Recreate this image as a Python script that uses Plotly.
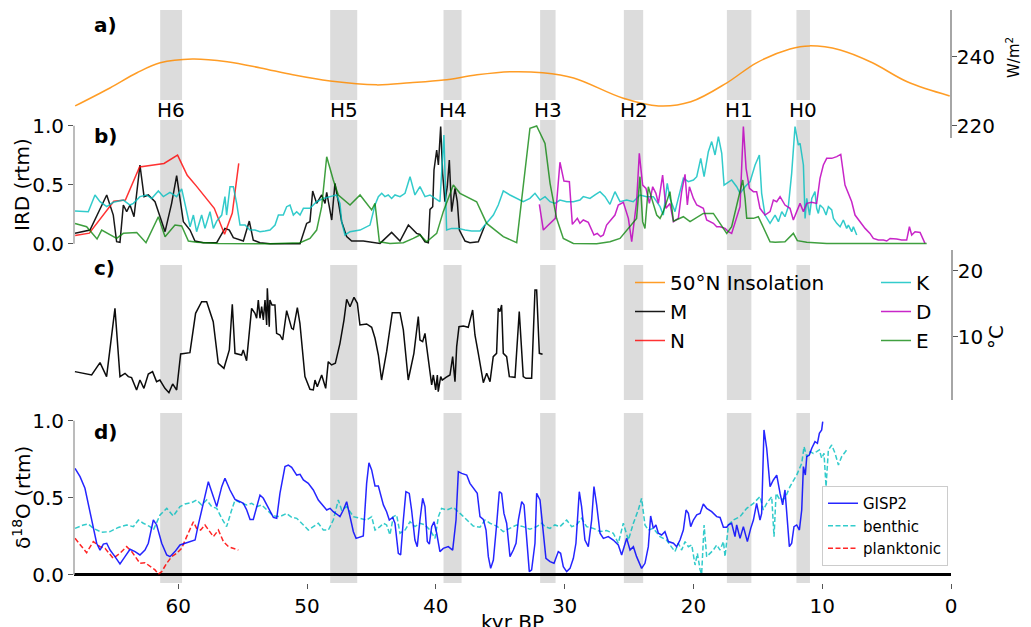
import plotly.graph_objects as go

W, H = 1031, 627
FONT = "DejaVu Sans"


def px(x):
    return x / W


def py(y):
    return 1 - y / H


# ---------------- data ----------------
X_RANGE = [68.09, 0.0]
x_ticks = [0, 10, 20, 30, 40, 50, 60]

heinrich_labels = ["H6", "H5", "H4", "H3", "H2", "H1", "H0"]
heinrich_start = [61.4, 48.2, 39.4, 31.9, 25.4, 17.4, 12.0]
heinrich_end = [59.7, 46.1, 38.0, 30.7, 23.9, 15.5, 10.95]

# a) 50N insolation (W/m2)
ins_t = [68.0, 65.3, 63.2, 61.4, 58.9, 56.2, 53.6, 51.1, 48.2, 44.6, 42.0, 39.4, 36.8, 34.2, 31.7,
         29.3, 25.5, 22.7, 20.2, 17.4, 15.1, 12.5, 11.0, 8.6, 6.1, 3.4, 0.1]
ins_v = [225.8, 231.0, 235.4, 238.3, 239.4, 238.6, 236.8, 234.8, 233.0, 231.9, 232.5, 233.3, 234.8, 235.7, 235.4,
         233.9, 228.1, 225.8, 227.0, 232.5, 238.3, 242.3, 243.2, 242.0, 238.3, 232.8, 228.7]

# b) IRD records (rtm)
M_t = [68.01, 66.85, 65.55, 65.04, 64.78, 64.52, 64.26, 64.0, 63.74, 63.43, 62.97, 62.65, 62.32, 61.8, 61.02,
       60.51, 60.12, 59.6, 59.08, 58.7, 58.05, 57.01, 56.37, 56.03, 55.72, 54.94, 54.48, 54.17, 53.65, 52.87,
       50.54, 50.03, 49.77, 49.56, 49.25, 48.86, 48.6, 48.47, 48.08, 47.83, 47.57, 47.31, 46.92, 46.53, 45.63,
       44.46, 44.33, 43.43, 42.78, 42.13, 41.49, 41.23, 40.84, 40.58, 40.45, 40.24, 40.14, 39.93, 39.8, 39.62,
       39.47, 39.29, 39.11, 38.95, 38.77, 38.51, 38.33, 38.17, 37.73, 37.35, 36.7, 36.18]
M_v = [0.088, 0.116, 0.413, 0.243, 0.017, 0.012, 0.328, 0.272, 0.328, 0.229, 0.667, 0.399, 0.413, 0.356, 0.102,
       0.342, 0.577, 0.187, 0.116, 0.023, 0.009, 0.009, 0.13, 0.116, 0.051, 0.023, 0.192, 0.031, 0.009, 0.0,
       0.0, 0.172, 0.187, 0.447, 0.342, 0.413, 0.342, 0.435, 0.201, 0.512, 0.356, 0.187, 0.06, 0.023, 0.023,
       0.003, 0.003, 0.096, 0.023, 0.158, 0.088, 0.079, 0.017, 0.009, 0.291, 0.314, 0.625, 0.794, 0.667, 0.992,
       0.596, 0.356, 0.483, 0.709, 0.272, 0.469, 0.356, 0.116, 0.023, 0.009, 0.017, 0.158]

N_t = [68.0, 66.9, 65.0, 64.1, 63.0, 61.1, 60.05, 59.3, 58.6, 57.8, 57.2, 56.4, 55.8, 55.3]
N_v = [0.07, 0.09, 0.36, 0.37, 0.65, 0.68, 0.75, 0.58, 0.49, 0.38, 0.30, 0.08, 0.26, 0.68]

K_t = [68.01, 66.98, 66.46, 66.07, 65.55, 65.04, 64.26, 63.74, 63.48, 62.97, 62.45, 62.06, 61.54, 61.15, 60.64,
       60.12, 59.73, 59.47, 59.08, 58.82, 58.57, 58.18, 57.92, 57.53, 57.27, 57.01, 56.62, 56.37, 56.24, 55.98,
       55.72, 55.46, 55.2, 54.81, 54.43, 54.04, 53.65, 53.26, 52.87, 52.48, 52.22, 51.84, 51.58, 51.32, 51.06,
       50.8, 50.54, 50.28, 49.77, 49.25, 48.73, 48.21, 47.7, 47.44, 47.31, 47.05, 46.66, 45.88, 45.11, 44.72,
       44.46, 44.2, 43.95, 43.69, 43.43, 43.17, 42.78, 42.39, 42.0, 41.62, 41.23, 40.84, 40.45, 40.06, 39.68,
       39.37, 39.16, 38.77, 38.25, 37.73, 37.22, 36.57, 36.18, 35.53, 35.15, 34.76, 34.24, 33.72, 33.21, 32.69,
       32.3, 31.91, 31.52, 31.13, 30.75, 30.36, 29.84, 29.32, 28.81, 28.55, 28.03, 27.64, 27.25, 26.86, 26.48,
       26.09, 25.7, 25.18, 24.67, 24.15, 23.63, 23.11, 22.59, 22.34, 22.03, 21.82, 21.43, 21.04, 20.78, 20.39,
       20.0, 19.74, 19.43, 19.17, 18.84, 18.58, 18.32, 18.06, 17.8, 17.62, 17.28, 17.03, 16.64, 16.38, 15.99,
       15.6, 15.21, 14.88, 14.7, 14.44, 14.05, 13.66, 13.4, 13.14, 12.89, 12.63, 12.37, 12.11, 11.85, 11.72,
       11.46, 11.33, 11.2, 10.98, 10.81, 10.56, 10.43, 10.3, 10.17, 9.91, 9.7, 9.52, 9.26, 9.13, 8.87,
       8.61, 8.36, 8.1, 7.97, 7.71, 7.58, 7.32]
K_v = [0.277, 0.271, 0.413, 0.356, 0.314, 0.351, 0.37, 0.328, 0.342, 0.399, 0.413, 0.384, 0.447, 0.399, 0.435,
       0.399, 0.464, 0.328, 0.144, 0.243, 0.102, 0.243, 0.13, 0.271, 0.13, 0.192, 0.243, 0.399, 0.243, 0.483,
       0.483, 0.342, 0.158, 0.158, 0.116, 0.116, 0.102, 0.108, 0.116, 0.158, 0.243, 0.243, 0.314, 0.328, 0.243,
       0.271, 0.243, 0.3, 0.3, 0.356, 0.384, 0.399, 0.413, 0.342, 0.187, 0.074, 0.102, 0.116, 0.158, 0.328,
       0.399, 0.427, 0.399, 0.413, 0.384, 0.413, 0.399, 0.427, 0.568, 0.413, 0.483, 0.399, 0.413, 0.384, 0.356,
       0.921, 0.116, 0.13, 0.13, 0.116, 0.108, 0.108, 0.158, 0.243, 0.328, 0.447, 0.413, 0.384, 0.356, 0.384,
       0.427, 0.37, 0.399, 0.356, 0.342, 0.37, 0.356, 0.356, 0.37, 0.399, 0.384, 0.413, 0.441, 0.399, 0.334,
       0.441, 0.356, 0.37, 0.356, 0.413, 0.399, 0.399, 0.314, 0.243, 0.512, 0.384, 0.272, 0.441, 0.554, 0.526,
       0.54, 0.568, 0.723, 0.568, 0.78, 0.865, 0.752, 0.907, 0.766, 0.497, 0.526, 0.54, 0.483, 0.427, 0.483,
       0.526, 0.667, 0.752, 0.427, 0.243, 0.173, 0.243, 0.187, 0.272, 0.229, 0.314, 0.596, 0.992, 0.836, 0.851,
       0.667, 0.215, 0.384, 0.243, 0.384, 0.441, 0.3, 0.257, 0.328, 0.3, 0.243, 0.314, 0.286, 0.215, 0.173,
       0.144, 0.201, 0.13, 0.158, 0.102, 0.144, 0.074]

D_t = [31.96, 31.65, 31.26, 30.88, 30.72, 30.36, 30.05, 29.63, 29.4, 29.01, 28.81, 28.55, 28.16, 27.72, 27.46,
       27.2, 26.99, 26.74, 26.42, 26.09, 25.83, 25.44, 25.05, 24.79, 24.41, 24.2, 23.94, 23.68, 23.42, 23.16,
       22.91, 22.72, 22.39, 22.13, 21.82, 21.55, 21.17, 20.91, 20.65, 20.47, 20.31, 20.0, 19.74, 19.48, 19.23,
       18.97, 18.71, 18.45, 18.19, 17.93, 17.54, 17.28, 17.03, 16.77, 16.38, 16.12, 15.91, 15.65, 15.34, 15.09,
       14.83, 14.44, 14.05, 13.79, 13.53, 13.27, 12.89, 12.5, 12.24, 11.98, 11.72, 11.46, 11.2, 10.81, 10.43,
       10.17, 9.91, 9.65, 9.26, 8.87, 8.56, 8.23, 7.71, 7.45, 7.06, 6.67, 6.29, 6.03, 5.64, 5.25,
       4.99, 4.73, 4.22, 3.83, 3.44, 3.23, 3.05, 2.79, 2.4, 2.02]
D_v = [0.334, 0.116, 0.158, 0.201, 0.215, 0.69, 0.531, 0.526, 0.164, 0.215, 0.173, 0.201, 0.181, 0.074, 0.088,
       0.06, 0.074, 0.158, 0.201, 0.243, 0.328, 0.351, 0.215, 0.017, 0.356, 0.766, 0.497, 0.469, 0.342, 0.483,
       0.427, 0.342, 0.582, 0.3, 0.34, 0.187, 0.215, 0.441, 0.588, 0.328, 0.483, 0.384, 0.328, 0.314, 0.3,
       0.201, 0.187, 0.173, 0.144, 0.144, 0.13, 0.102, 0.088, 0.187, 0.314, 0.992, 0.639, 0.469, 0.441, 0.441,
       0.3, 0.243, 0.272, 0.37, 0.356, 0.399, 0.328, 0.3, 0.201, 0.272, 0.342, 0.272, 0.342, 0.351, 0.342,
       0.554, 0.667, 0.723, 0.723, 0.738, 0.757, 0.497, 0.356, 0.243, 0.187, 0.13, 0.088, 0.045, 0.031, 0.031,
       0.023, 0.045, 0.04, 0.031, 0.031, 0.144, 0.074, 0.102, 0.096, 0.003]

E_t = [68.01, 67.11, 66.3, 65.94, 64.78, 64.26, 63.22, 62.5, 61.54, 61.02, 60.25, 59.73, 59.21, 58.57, 56.88,
       52.87, 50.54, 49.77, 49.25, 48.86, 48.47, 47.96, 47.57, 46.66, 45.88, 44.98, 44.72, 44.38, 43.56, 42.52,
       41.75, 41.23, 40.71, 39.93, 39.42, 38.64, 38.12, 36.83, 36.05, 34.76, 33.72, 32.69, 32.17, 31.52, 31.13,
       30.62, 30.1, 29.32, 27.51, 26.48, 25.7, 24.41, 24.15, 23.94, 23.76, 23.5, 23.24, 22.85, 22.59, 22.34,
       22.08, 21.82, 21.55, 20.78, 20.26, 19.23, 18.45, 17.41, 17.03, 16.38, 16.17, 15.99, 15.86, 15.34, 14.96,
       14.05, 13.66, 12.89, 12.24, 11.93, 11.2, 9.65, 1.89]
E_v = [0.172, 0.144, 0.04, 0.116, 0.045, 0.088, 0.096, 0.009, 0.229, 0.06, 0.158, 0.15, 0.023, 0.012, 0.003,
       0.0, 0.009, 0.045, 0.116, 0.314, 0.737, 0.54, 0.413, 0.328, 0.413, 0.286, 0.342, 0.017, 0.003, 0.009,
       0.045, 0.074, 0.017, 0.088, 0.272, 0.497, 0.427, 0.356, 0.172, 0.06, 0.009, 0.978, 0.997, 0.85, 0.512,
       0.215, 0.045, 0.003, 0.0, 0.017, 0.045, 0.215, 0.568, 0.187, 0.13, 0.483, 0.384, 0.243, 0.215, 0.272,
       0.356, 0.441, 0.192, 0.229, 0.187, 0.257, 0.257, 0.088, 0.144, 0.441, 0.54, 0.384, 0.215, 0.215, 0.229,
       0.017, 0.012, 0.017, 0.088, 0.026, 0.012, 0.003, 0.003]

# c) temperature record (deg C)
T_t = [68.02, 66.72, 66.07, 65.56, 64.91, 64.52, 64.13, 63.87, 63.62, 63.23, 62.97, 62.66, 62.32, 61.99, 61.68,
       61.42, 61.03, 60.72, 60.43, 60.12, 59.81, 59.09, 58.65, 58.18, 57.79, 57.28, 56.89, 56.45, 56.03, 55.8,
       55.59, 55.08, 54.95, 54.69, 54.3, 54.04, 53.91, 53.78, 53.65, 53.52, 53.39, 53.26, 53.13, 53.08, 52.93,
       52.88, 52.72, 52.49, 52.36, 52.1, 51.89, 51.58, 51.19, 51.06, 50.75, 50.55, 50.16, 49.77, 49.51, 49.38,
       49.2, 48.86, 48.55, 48.35, 48.09, 47.8, 47.44, 47.13, 46.92, 46.66, 46.35, 46.09, 45.89, 45.37, 44.98,
       44.72, 44.46, 44.21, 43.82, 43.38, 42.78, 42.52, 42.14, 41.7, 41.36, 41.23, 41.02, 40.84, 40.71, 40.45,
       40.32, 40.19, 40.01, 39.88, 39.81, 39.62, 39.5, 39.21, 38.9, 38.69, 38.51, 38.38, 38.2, 37.86, 37.48,
       37.14, 36.96, 36.7, 36.31, 36.05, 35.79, 35.54, 35.28, 35.15, 35.02, 34.89, 34.76, 34.5, 34.29, 33.85,
       33.52, 33.21, 33.0, 32.56, 32.3, 32.17, 31.96, 31.71]
T_v = [4.75, 4.24, 6.11, 3.99, 14.34, 3.99, 4.49, 3.99, 3.84, 1.97, 3.48, 2.22, 4.39, 4.75, 3.23,
       3.48, 2.22, 1.56, 2.88, 1.97, 7.42, 7.62, 13.58, 15.35, 15.35, 12.32, 6.01, 5.25, 8.03, 14.95,
       7.52, 7.27, 8.03, 6.41, 14.34, 13.58, 12.83, 15.6, 12.83, 14.59, 12.57, 15.6, 11.82, 17.37, 11.56,
       15.6, 14.85, 14.85, 10.55, 10.3, 9.54, 13.99, 11.31, 11.16, 14.44, 12.07, 3.99, 2.07, 1.97, 3.48,
       2.47, 4.24, 2.22, 6.26, 5.76, 6.01, 9.04, 12.57, 15.71, 14.59, 16.01, 15.1, 11.82, 11.97, 11.46,
       9.8, 7.27, 3.48, 7.78, 13.69, 13.69, 11.06, 3.48, 7.52, 13.08, 9.54, 9.29, 10.55, 8.53, 3.99,
       2.73, 4.24, 1.97, 4.24, 1.72, 3.99, 3.48, 3.89, 4.24, 7.02, 3.23, 8.53, 11.56, 11.66, 11.46,
       14.09, 10.3, 7.52, 3.08, 4.49, 3.23, 7.02, 7.52, 14.34, 13.84, 14.85, 7.52, 7.02, 3.99, 3.89,
       13.84, 3.99, 3.74, 3.74, 17.12, 17.12, 7.52, 7.37]

# d) d18O records (rtm)
G_t = [68.01, 67.62, 67.24, 66.72, 66.33, 66.07, 65.81, 65.55, 65.29, 64.91, 64.52, 64.13, 63.74, 63.35, 62.97,
       62.58, 62.32, 61.93, 61.67, 61.28, 60.89, 60.64, 60.25, 59.86, 59.47, 59.08, 58.69, 58.44, 58.05, 57.66,
       57.4, 57.01, 56.62, 56.37, 55.98, 55.59, 55.2, 54.94, 54.68, 54.42, 54.17, 53.91, 53.65, 53.39, 53.0,
       52.61, 52.35, 52.1, 51.71, 51.45, 51.19, 50.8, 50.54, 50.28, 49.9, 49.51, 49.12, 48.73, 48.47, 48.21,
       47.96, 47.7, 47.44, 47.18, 46.92, 46.66, 46.4, 46.19, 45.88, 45.63, 45.37, 45.19, 44.98, 44.72, 44.46,
       44.07, 43.82, 43.61, 43.35, 43.17, 42.91, 42.73, 42.52, 42.32, 42.06, 41.88, 41.62, 41.44, 41.23, 41.02,
       40.84, 40.66, 40.5, 40.32, 40.14, 39.93, 39.68, 39.42, 39.03, 38.69, 38.43, 38.25, 37.99, 37.6, 37.35,
       36.96, 36.78, 36.57, 36.31, 36.1, 35.92, 35.74, 35.53, 35.28, 35.07, 34.89, 34.71, 34.5, 34.24, 33.98,
       33.77, 33.59, 33.33, 33.15, 33.0, 32.74, 32.56, 32.3, 32.17, 31.91, 31.7, 31.45, 31.13, 30.82, 30.49,
       30.31, 30.1, 29.84, 29.58, 29.32, 29.12, 28.86, 28.68, 28.42, 28.16, 27.9, 27.72, 27.51, 27.25, 26.99,
       26.61, 26.22, 25.83, 25.57, 25.18, 24.92, 24.66, 24.41, 24.02, 23.76, 23.5, 23.32, 23.11, 22.91, 22.72,
       22.47, 22.21, 21.94, 21.55, 21.3, 21.04, 20.78, 20.57, 20.39, 20.21, 20.0, 19.74, 19.48, 19.23, 18.97,
       18.58, 18.19, 17.93, 17.67, 17.41, 17.28, 17.03, 16.77, 16.64, 16.38, 16.12, 15.81, 15.55, 15.34, 15.09,
       14.83, 14.7, 14.52, 14.31, 14.05, 13.79, 13.53, 13.27, 13.07, 12.89, 12.76, 12.55, 12.37, 12.19, 11.98,
       11.77, 11.59, 11.46, 11.31, 11.2, 11.0, 10.81, 10.56, 10.37, 10.22, 10.04, 9.96]
G_v = [0.691, 0.637, 0.561, 0.355, 0.204, 0.16, 0.199, 0.204, 0.16, 0.117, 0.07, 0.117, 0.165, 0.15, 0.128,
       0.16, 0.204, 0.355, 0.323, 0.204, 0.128, 0.117, 0.15, 0.193, 0.204, 0.215, 0.225, 0.323, 0.474, 0.604,
       0.539, 0.442, 0.572, 0.626, 0.55, 0.489, 0.474, 0.463, 0.42, 0.359, 0.359, 0.442, 0.517, 0.496, 0.431,
       0.372, 0.366, 0.528, 0.702, 0.712, 0.697, 0.647, 0.652, 0.615, 0.593, 0.55, 0.485, 0.442, 0.42, 0.431,
       0.409, 0.394, 0.377, 0.42, 0.474, 0.377, 0.279, 0.236, 0.242, 0.251, 0.593, 0.727, 0.68, 0.576, 0.576,
       0.453, 0.409, 0.355, 0.372, 0.334, 0.139, 0.128, 0.355, 0.539, 0.528, 0.42, 0.225, 0.182, 0.355, 0.496,
       0.442, 0.215, 0.199, 0.312, 0.344, 0.269, 0.15, 0.171, 0.182, 0.16, 0.355, 0.669, 0.658, 0.647, 0.593,
       0.55, 0.528, 0.377, 0.359, 0.29, 0.117, 0.041, 0.095, 0.323, 0.539, 0.528, 0.398, 0.334, 0.117, 0.16,
       0.204, 0.355, 0.474, 0.453, 0.269, 0.02, 0.031, 0.204, 0.528, 0.485, 0.312, 0.106, 0.085, 0.074, 0.15,
       0.139, 0.052, 0.02, 0.041, 0.106, 0.204, 0.539, 0.442, 0.225, 0.182, 0.355, 0.572, 0.453, 0.269, 0.236,
       0.247, 0.225, 0.193, 0.128, 0.236, 0.16, 0.182, 0.117, 0.041, 0.074, 0.182, 0.381, 0.301, 0.323, 0.269,
       0.258, 0.279, 0.215, 0.204, 0.182, 0.225, 0.29, 0.42, 0.398, 0.312, 0.355, 0.388, 0.398, 0.459, 0.431,
       0.409, 0.377, 0.372, 0.308, 0.308, 0.323, 0.334, 0.247, 0.323, 0.236, 0.312, 0.215, 0.301, 0.355, 0.463,
       0.355, 0.398, 0.94, 0.821, 0.572, 0.615, 0.647, 0.528, 0.453, 0.55, 0.42, 0.182, 0.204, 0.312, 0.323,
       0.29, 0.42, 0.702, 0.647, 0.766, 0.777, 0.821, 0.864, 0.853, 0.918, 0.94, 0.994]

B_t = [68.01, 67.36, 66.98, 66.59, 65.94, 65.29, 64.65, 64.0, 63.48, 63.09, 62.71, 62.19, 61.93, 61.41, 60.89,
       60.38, 59.86, 59.47, 58.95, 58.57, 58.18, 57.79, 57.4, 57.01, 56.62, 56.24, 55.85, 55.59, 55.2, 54.68,
       54.3, 53.91, 53.52, 53.13, 52.61, 52.1, 51.58, 51.19, 50.8, 50.28, 49.9, 49.51, 49.12, 48.73, 48.34,
       47.96, 47.57, 47.31, 46.92, 46.4, 45.88, 45.37, 44.98, 44.72, 44.33, 44.07, 43.82, 43.56, 43.3, 43.04,
       42.78, 42.39, 42.0, 41.62, 41.23, 40.84, 40.45, 40.06, 39.8, 39.55, 39.16, 38.64, 38.12, 37.6, 37.09,
       36.57, 36.18, 35.79, 35.28, 34.76, 34.24, 33.72, 33.21, 32.69, 32.17, 31.78, 31.52, 31.13, 30.75, 30.36,
       29.84, 29.45, 29.07, 28.68, 28.29, 27.77, 27.25, 26.74, 26.22, 25.83, 25.44, 25.05, 24.66, 24.28, 24.02,
       23.76, 23.5, 23.11, 22.59, 22.08, 21.82, 21.43, 21.17, 20.91, 20.65, 20.39, 20.13, 19.87, 19.69, 19.48,
       19.36, 19.17, 18.97, 18.71, 18.45, 18.19, 17.93, 17.67, 17.54, 17.28, 16.9, 16.38, 15.86, 15.34, 14.83,
       14.57, 14.31, 13.92, 13.74, 13.58, 13.27, 12.89, 12.5, 11.98, 11.59, 11.41, 11.2, 10.94, 10.69, 10.43,
       10.22, 10.04, 9.86, 9.7, 9.52, 9.26, 9.0, 8.74, 8.49, 8.1]
B_v = [0.301, 0.323, 0.329, 0.301, 0.275, 0.28, 0.307, 0.323, 0.312, 0.355, 0.334, 0.312, 0.29, 0.388, 0.431,
       0.381, 0.442, 0.459, 0.468, 0.485, 0.453, 0.485, 0.442, 0.431, 0.366, 0.312, 0.42, 0.485, 0.468, 0.453,
       0.463, 0.442, 0.453, 0.42, 0.381, 0.377, 0.398, 0.372, 0.366, 0.323, 0.29, 0.312, 0.334, 0.29, 0.29,
       0.355, 0.485, 0.42, 0.442, 0.377, 0.366, 0.355, 0.377, 0.29, 0.312, 0.334, 0.323, 0.258, 0.377, 0.388,
       0.269, 0.29, 0.344, 0.312, 0.334, 0.323, 0.29, 0.236, 0.377, 0.431, 0.42, 0.437, 0.398, 0.355, 0.316,
       0.308, 0.355, 0.334, 0.316, 0.28, 0.301, 0.323, 0.312, 0.295, 0.312, 0.334, 0.312, 0.301, 0.323, 0.312,
       0.355, 0.312, 0.323, 0.366, 0.312, 0.301, 0.28, 0.286, 0.269, 0.204, 0.334, 0.225, 0.334, 0.42, 0.496,
       0.323, 0.29, 0.301, 0.247, 0.225, 0.193, 0.15, 0.204, 0.16, 0.215, 0.182, 0.193, 0.063, 0.139, 0.031,
       0.004, 0.323, 0.117, 0.139, 0.16, 0.193, 0.16, 0.215, 0.117, 0.323, 0.355, 0.377, 0.431, 0.463, 0.507,
       0.42, 0.463, 0.507, 0.247, 0.528, 0.485, 0.496, 0.572, 0.647, 0.723, 0.831, 0.766, 0.799, 0.788, 0.799,
       0.81, 0.756, 0.788, 0.572, 0.81, 0.842, 0.788, 0.712, 0.766, 0.81]

P_t = [68.01, 67.62, 67.11, 66.59, 66.07, 65.68, 65.04, 64.52, 64.0, 63.61, 63.22, 62.97, 62.58, 62.19, 61.8,
       61.54, 61.28, 60.89, 60.51, 60.12, 59.73, 59.34, 58.82, 58.57, 58.26, 57.92, 57.53, 57.27, 56.88, 56.49,
       56.1, 55.72, 55.33]
P_v = [0.236, 0.193, 0.143, 0.215, 0.182, 0.171, 0.106, 0.139, 0.182, 0.15, 0.106, 0.074, 0.078, 0.052, 0.031,
       0.004, 0.02, 0.074, 0.117, 0.139, 0.171, 0.247, 0.344, 0.301, 0.29, 0.323, 0.28, 0.247, 0.29, 0.215,
       0.182, 0.171, 0.16]

# ---------------- layout constants (pixels) ----------------
X_LEFT, X_RIGHT = 74, 951
A_AX, B_AX, C_AX, D_AX = (10, 138), (120, 250), (250, 400), (413, 583)
BANDS_Y = [(10, 100), (120, 250), (265, 400), (413, 583)]
BAND_COLOR = "#dcdcdc"
SPINE = "#a6a6a6"
TICKC = "#555555"

fig = go.Figure()


def line(t, v, yaxis, color, name, legend=None, dash=None, width=1.5, opacity=0.85, shape="linear", rank=1000):
    fig.add_trace(go.Scatter(
        x=t, y=v, yaxis=yaxis, mode="lines", name=name,
        line=dict(color=color, width=width, dash=dash, shape=shape),
        opacity=opacity, showlegend=legend is not None, legendrank=rank,
        legend=legend if legend else "legend", legendgroup=name, hoverinfo="skip"))


line(ins_t, ins_v, "y", "darkorange", "50°N Insolation", legend="legend", shape="spline", rank=1)
line(M_t, M_v, "y2", "black", "M", legend="legend", opacity=0.9, rank=2)
line(N_t, N_v, "y2", "red", "N", legend="legend", opacity=0.8, rank=3)
line(K_t, K_v, "y2", "#00bfbf", "K", legend="legend2", opacity=0.8, rank=1)
line(D_t, D_v, "y2", "#bf00bf", "D", legend="legend2", opacity=0.85, rank=2)
line(E_t, E_v, "y2", "#008000", "E", legend="legend2", opacity=0.75, rank=3)
line(T_t, T_v, "y3", "black", "M temperature", opacity=0.95)
line(B_t, B_v, "y4", "#00bfbf", "benthic", legend="legend3", dash="5px,2.5px", opacity=0.8, rank=2)
line(P_t, P_v, "y4", "red", "planktonic", legend="legend3", dash="5px,2.5px", opacity=0.85, rank=3)
line(G_t, G_v, "y4", "blue", "GISP2", legend="legend3", opacity=0.85, rank=1)

shapes = []
for (top, bot) in BANDS_Y:
    for s, e in zip(heinrich_start, heinrich_end):
        shapes.append(dict(type="rect", xref="x", yref="paper", x0=s, x1=e, y0=py(bot), y1=py(top),
                           fillcolor=BAND_COLOR, line=dict(width=0), layer="below"))
# bounded left spines
for ya in ["y2", "y4"]:
    shapes.append(dict(type="line", xref="paper", yref=ya, x0=px(X_LEFT), x1=px(X_LEFT), y0=0, y1=1,
                       line=dict(color=SPINE, width=1.5)))

annotations = []
for lab, s, e in zip(heinrich_labels, heinrich_start, heinrich_end):
    annotations.append(dict(text=lab, x=(s + e) / 2, xref="x", y=py(110), yref="paper", showarrow=False,
                            xanchor="center", yanchor="middle", font=dict(size=20)))
for lab, ypix in zip(["a)", "b)", "c)", "d)"], [25, 136, 268, 432]):
    annotations.append(dict(text="<b>" + lab + "</b>", x=px(92), xref="paper", y=py(ypix), yref="paper",
                            showarrow=False, xanchor="left", yanchor="middle", font=dict(size=20)))
annotations += [
    dict(text="IRD (rtm)", x=px(22), y=py(185), xref="paper", yref="paper", textangle=-90,
         showarrow=False, xanchor="center", yanchor="middle", font=dict(size=20)),
    dict(text="δ<sup>18</sup>O (rtm)", x=px(22), y=py(498), xref="paper", yref="paper", textangle=-90,
         showarrow=False, xanchor="center", yanchor="middle", font=dict(size=20)),
    dict(text="°C", x=px(996), y=py(337), xref="paper", yref="paper", textangle=-90,
         showarrow=False, xanchor="center", yanchor="middle", font=dict(size=20)),
    dict(text="W/m<sup>2</sup>", x=px(1013), y=py(58), xref="paper", yref="paper", textangle=-90,
         showarrow=False, xanchor="center", yanchor="middle", font=dict(size=15)),
    dict(text="kyr BP", x=px((X_LEFT + X_RIGHT) / 2), y=py(608), xref="paper", yref="paper",
         showarrow=False, xanchor="center", yanchor="top", font=dict(size=20)),
]

axis_common = dict(showgrid=False, zeroline=False, ticks="outside", ticklen=5, tickwidth=1.2,
                   tickcolor=TICKC, tickfont=dict(size=20, color="black"), automargin=False)

fig.update_layout(
    width=W, height=H, autosize=False,
    margin=dict(l=0, r=0, t=0, b=0, pad=0, autoexpand=False),
    paper_bgcolor="white", plot_bgcolor="rgba(0,0,0,0)",
    font=dict(family=FONT, size=20, color="black"),
    showlegend=True,
    xaxis=dict(domain=[px(X_LEFT), px(X_RIGHT)], range=X_RANGE, anchor="y4", tickvals=x_ticks,
               showline=False, **axis_common),
    yaxis=dict(domain=[py(A_AX[1]), py(A_AX[0])], range=[216.5, 253.6], anchor="free",
               position=px(X_RIGHT), side="right", tickvals=[220, 240], showline=True, linecolor=SPINE,
               linewidth=1.5, ticklabelstandoff=-4, **axis_common),
    yaxis2=dict(domain=[py(B_AX[1]), py(B_AX[0])], range=[-0.053, 1.048], anchor="x", side="left",
                tickvals=[0, 0.5, 1.0], ticktext=["0.0", "0.5", "1.0"], showline=False, **axis_common),
    yaxis3=dict(domain=[py(C_AX[1]), py(C_AX[0])], range=[0.45, 23.18], anchor="x", side="right",
                tickvals=[10, 20], showline=True, linecolor=SPINE, linewidth=1.5, ticklabelstandoff=-4,
                **axis_common),
    yaxis4=dict(domain=[py(D_AX[1]), py(D_AX[0])], range=[-0.054, 1.05], anchor="x", side="left",
                tickvals=[0, 0.5, 1.0], ticktext=["0.0", "0.5", "1.0"], showline=False,
                **{**axis_common, "zeroline": True}, zerolinecolor="black", zerolinewidth=2.5),
    legend=dict(x=px(630), y=py(263), xanchor="left", yanchor="top", bgcolor="rgba(0,0,0,0)",
                font=dict(size=20), tracegroupgap=1, itemwidth=30, traceorder="normal"),
    legend2=dict(x=px(876), y=py(263), xanchor="left", yanchor="top", bgcolor="rgba(0,0,0,0)",
                 font=dict(size=20), tracegroupgap=1, itemwidth=30, traceorder="normal"),
    legend3=dict(x=px(948), y=py(566), xanchor="right", yanchor="bottom", bgcolor="rgba(255,255,255,0.85)",
                 bordercolor="#cccccc", borderwidth=1, font=dict(size=15), tracegroupgap=0,
                 traceorder="normal", itemwidth=30),
    shapes=shapes, annotations=annotations,
)

fig.write_html("out.html")
